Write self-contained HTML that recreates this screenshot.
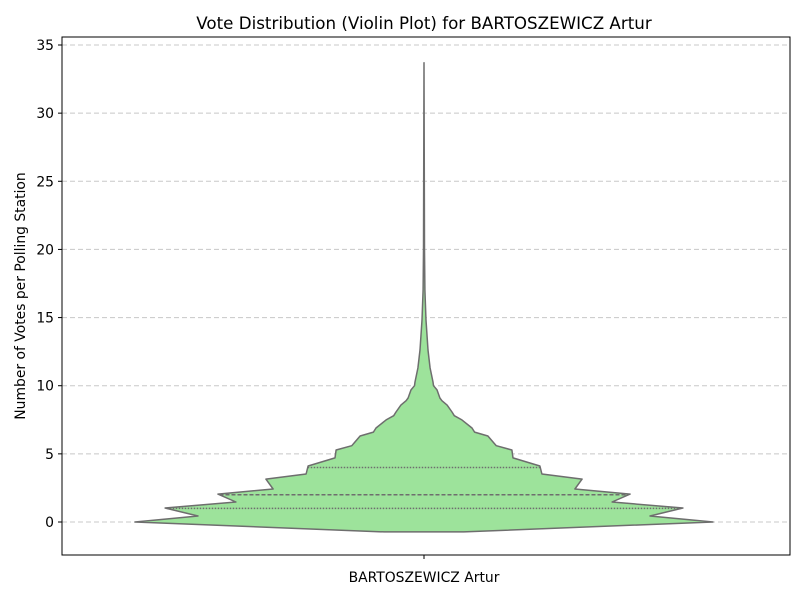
<!DOCTYPE html>
<html><head><meta charset="utf-8"><style>
body{margin:0;background:#fff;font-family:"DejaVu Sans",sans-serif}
svg text{font-family:"DejaVu Sans",sans-serif;fill:#000}
</style></head><body>
<svg id="c" width="800" height="600"></svg>
<script>
const yTicks=[0,5,10,15,20,25,30,35];
const profileValues=[-0.73,0,0.44,1.03,1.47,2.05,2.42,3.15,3.52,4.11,4.7,5.28,5.6,5.8,6.31,6.6,6.9,7.49,7.8,8.07,8.58,8.9,9.1,9.69,10.0,10.27,11.3,12.62,14.82,17.02,19.96,33.7];
const profileDensity=[0.138,1,0.782,0.896,0.651,0.713,0.522,0.547,0.408,0.401,0.308,0.304,0.250,0.242,0.221,0.175,0.166,0.131,0.105,0.097,0.080,0.062,0.055,0.045,0.033,0.031,0.021,0.014,0.007,0.003,0.0017,0];
const quartiles=[1,2,4];
const category="BARTOSZEWICZ Artur";
const NS="http://www.w3.org/2000/svg",svg=document.getElementById('c');
const L=62,R=790,T=37,B=555,cx=424,maxHW=289;
const y=v=>522-v*(477/35);
function mk(t,a,p){const e=document.createElementNS(NS,t);for(const k in a)e.setAttribute(k,a[k]);(p||svg).appendChild(e);return e;}
function dens(v){for(let i=0;i<profileValues.length-1;i++){if(v>=profileValues[i]&&v<=profileValues[i+1]){const f=(v-profileValues[i])/(profileValues[i+1]-profileValues[i]);return profileDensity[i]+f*(profileDensity[i+1]-profileDensity[i]);}}return 0;}
yTicks.forEach(t=>{
 const g=mk('line',{x1:L,x2:R,y1:y(t),y2:y(t),stroke:'#c8c8c8','stroke-dasharray':'5,3','stroke-width':1});
 
 mk('line',{x1:L-4,x2:L,y1:y(t),y2:y(t),stroke:'#000'});
 const tx=mk('text',{x:L-8,y:y(t)+5,'text-anchor':'end','font-size':13.9});tx.textContent=t;
 
});
let pts=[];
profileValues.forEach((v,i)=>pts.push([cx+profileDensity[i]*maxHW,y(v)]));
for(let i=profileValues.length-1;i>=0;i--)pts.push([cx-profileDensity[i]*maxHW,y(profileValues[i])]);
const vp=mk('path',{d:'M'+pts.map(p=>p[0].toFixed(1)+','+p[1].toFixed(1)).join('L')+'Z',fill:'#9de39b',stroke:'#6e6e6e','stroke-width':1.5,'stroke-linejoin':'round'});

quartiles.forEach((q,i)=>{const hw=dens(q)*maxHW;
 const l=mk('line',{x1:cx-hw,x2:cx+hw,y1:y(q),y2:y(q),stroke:'#6e6e6e','stroke-width':1.5,'stroke-dasharray':i==1?'4,2':'1.5,1.5'});
 });
const fr=mk('rect',{x:L,y:T,width:R-L,height:B-T,fill:'none',stroke:'#000','stroke-width':1});

mk('line',{x1:cx,x2:cx,y1:B,y2:B+4,stroke:'#000'});
const xl=mk('text',{x:cx,y:582,'text-anchor':'middle','font-size':13.9});xl.textContent=category;

const yt=mk('text',{x:0,y:0,'text-anchor':'middle','font-size':13.9,transform:'translate(25,296) rotate(-90)'});yt.textContent='Number of Votes per Polling Station';

const ti=mk('text',{x:424,y:29,'text-anchor':'middle','font-size':16.7});ti.textContent='Vote Distribution (Violin Plot) for BARTOSZEWICZ Artur';

</script>
</body></html>
